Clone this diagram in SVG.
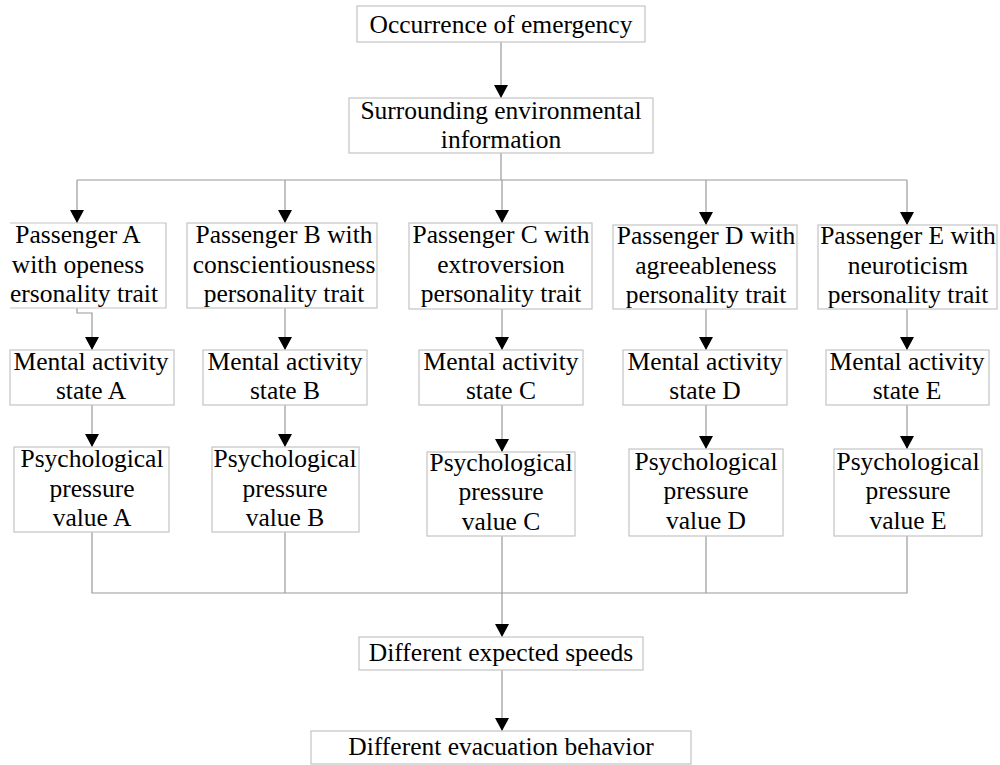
<svg xmlns="http://www.w3.org/2000/svg" width="1000" height="765" viewBox="0 0 1000 765">
<style>
.box{fill:#fff;stroke:#c4c4c4;stroke-width:1.2}
.t{font-family:"Liberation Serif","Times New Roman",serif;font-size:25.5px;fill:#000;text-anchor:middle}
.c{fill:none;stroke:#999;stroke-width:1.2}
</style>
<defs>
<marker id="ah" viewBox="0 0 13 14" refX="13" refY="7" markerWidth="13" markerHeight="14" orient="auto" markerUnits="userSpaceOnUse">
<path d="M0,0 L13,7 L0,14 z" fill="#000"/>
</marker>
</defs>
<rect width="1000" height="765" fill="#fff"/>
<g id="connectors">
<path class="c" d="M501,42 V98" marker-end="url(#ah)"/>
<path class="c" d="M501,153 V180"/>
<path class="c" d="M77,180 H907"/>
<path class="c" d="M77,180 V223" marker-end="url(#ah)"/>
<path class="c" d="M285,180 V223" marker-end="url(#ah)"/>
<path class="c" d="M502,180 V223" marker-end="url(#ah)"/>
<path class="c" d="M706,180 V225" marker-end="url(#ah)"/>
<path class="c" d="M907,180 V225" marker-end="url(#ah)"/>
<path class="c" d="M77,308 V313 H92 V350" marker-end="url(#ah)"/>
<path class="c" d="M285,308 V350" marker-end="url(#ah)"/>
<path class="c" d="M502,309 V350" marker-end="url(#ah)"/>
<path class="c" d="M706,309 V350" marker-end="url(#ah)"/>
<path class="c" d="M907,309 V350" marker-end="url(#ah)"/>
<path class="c" d="M92,405 V447" marker-end="url(#ah)"/>
<path class="c" d="M285,405 V447" marker-end="url(#ah)"/>
<path class="c" d="M502,405 V452" marker-end="url(#ah)"/>
<path class="c" d="M706,405 V449" marker-end="url(#ah)"/>
<path class="c" d="M907,405 V449" marker-end="url(#ah)"/>
<path class="c" d="M92,532 V593 H907 V536"/>
<path class="c" d="M285,532 V593"/>
<path class="c" d="M706,536 V593"/>
<path class="c" d="M502,536 V637" marker-end="url(#ah)"/>
<path class="c" d="M502,670 V731" marker-end="url(#ah)"/>
</g>
<g id="n-emergency">
<rect class="box" x="357" y="6" width="288" height="36"/>
<text class="t" x="501" y="33">Occurrence of emergency</text>
</g>
<g id="n-environment">
<rect class="box" x="349" y="98" width="304" height="55"/>
<text class="t" x="501" y="119">Surrounding environmental</text>
<text class="t" x="501" y="148">information</text>
</g>
<g id="n-passA">
<path class="box" d="M10,223 H166 V308 H10"/>
<text class="t" x="78" y="243">Passenger A</text>
<text class="t" x="78" y="273">with openess</text>
<text class="t" x="84" y="302">ersonality trait</text>
</g>
<g id="n-passB">
<rect class="box" x="187" y="223" width="190" height="85"/>
<text class="t" x="284" y="243">Passenger B with</text>
<text class="t" x="284" y="273">conscientiousness</text>
<text class="t" x="284" y="302">personality trait</text>
</g>
<g id="n-passC">
<rect class="box" x="409" y="223" width="183" height="86"/>
<text class="t" x="501" y="243">Passenger C with</text>
<text class="t" x="501" y="273">extroversion</text>
<text class="t" x="501" y="302">personality trait</text>
</g>
<g id="n-passD">
<rect class="box" x="613" y="225" width="184" height="84"/>
<text class="t" x="706" y="244">Passenger D with</text>
<text class="t" x="706" y="274">agreeableness</text>
<text class="t" x="706" y="303">personality trait</text>
</g>
<g id="n-passE">
<rect class="box" x="818" y="225" width="179" height="84"/>
<text class="t" x="908" y="244">Passenger E with</text>
<text class="t" x="908" y="274">neuroticism</text>
<text class="t" x="908" y="303">personality trait</text>
</g>
<g id="n-mentalA">
<rect class="box" x="10" y="350" width="164" height="55"/>
<text class="t" x="91" y="370">Mental activity</text>
<text class="t" x="91" y="399">state A</text>
</g>
<g id="n-mentalB">
<rect class="box" x="203" y="350" width="164" height="55"/>
<text class="t" x="285" y="370">Mental activity</text>
<text class="t" x="285" y="399">state B</text>
</g>
<g id="n-mentalC">
<rect class="box" x="419" y="350" width="164" height="55"/>
<text class="t" x="501" y="370">Mental activity</text>
<text class="t" x="501" y="399">state C</text>
</g>
<g id="n-mentalD">
<rect class="box" x="623" y="350" width="164" height="55"/>
<text class="t" x="705" y="370">Mental activity</text>
<text class="t" x="705" y="399">state D</text>
</g>
<g id="n-mentalE">
<rect class="box" x="826" y="350" width="163" height="55"/>
<text class="t" x="907" y="370">Mental activity</text>
<text class="t" x="907" y="399">state E</text>
</g>
<g id="n-psychA">
<rect class="box" x="14" y="447" width="155" height="85"/>
<text class="t" x="92" y="467">Psychological</text>
<text class="t" x="92" y="497">pressure</text>
<text class="t" x="92" y="526">value A</text>
</g>
<g id="n-psychB">
<rect class="box" x="212" y="447" width="147" height="85"/>
<text class="t" x="285" y="467">Psychological</text>
<text class="t" x="285" y="497">pressure</text>
<text class="t" x="285" y="526">value B</text>
</g>
<g id="n-psychC">
<rect class="box" x="427" y="452" width="148" height="84"/>
<text class="t" x="501" y="471">Psychological</text>
<text class="t" x="501" y="500">pressure</text>
<text class="t" x="501" y="530">value C</text>
</g>
<g id="n-psychD">
<rect class="box" x="629" y="449" width="154" height="87"/>
<text class="t" x="706" y="470">Psychological</text>
<text class="t" x="706" y="499">pressure</text>
<text class="t" x="706" y="529">value D</text>
</g>
<g id="n-psychE">
<rect class="box" x="834" y="449" width="148" height="87"/>
<text class="t" x="908" y="470">Psychological</text>
<text class="t" x="908" y="499">pressure</text>
<text class="t" x="908" y="529">value E</text>
</g>
<g id="n-speeds">
<rect class="box" x="359" y="637" width="284" height="33"/>
<text class="t" x="501" y="661">Different expected speeds</text>
</g>
<g id="n-behavior">
<rect class="box" x="311" y="731" width="380" height="33"/>
<text class="t" x="501" y="755">Different evacuation behavior</text>
</g>
</svg>
